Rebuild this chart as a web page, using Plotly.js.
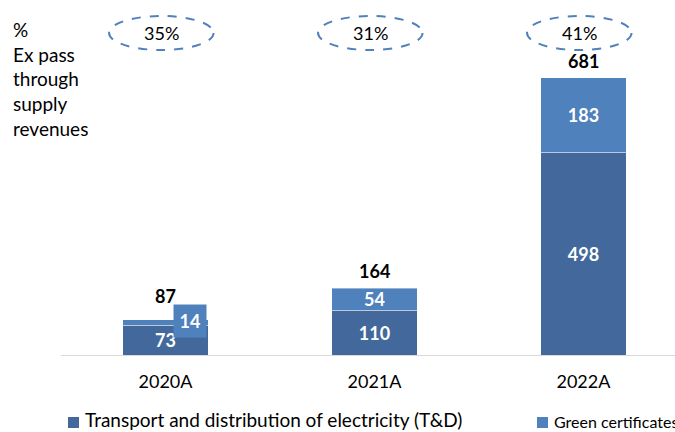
<!DOCTYPE html>
<html><head><meta charset="utf-8">
<script src="https://cdn.plot.ly/plotly-3.0.1.min.js"></script>
<style>html,body{margin:0;padding:0;background:#fff}</style>
</head><body><div id="chart" style="width:675px;height:432px"></div>
<script>
const categories = ["2020A", "2021A", "2022A"];
const tdValues = [73, 110, 498];
const greenValues = [14, 54, 183];
const totals = [87, 164, 681];
const shares = ["35%", "31%", "41%"];
const seriesNames = ["Transport and distribution of electricity (T&D)", "Green certificates"];
const sideNote = "%<br>Ex pass<br>through<br>supply<br>revenues";

const cDark = "#43699C", cLight = "#4F81BD";
const FONT = "Lato, 'Open Sans', sans-serif";
const L = 61, W = 614, H = 355;
const px = x => (x - L) / W;
const py = y => (H - y) / H;

const traces = [
  {type: "bar", x: [0,1,2], y: tdValues, name: seriesNames[0], marker: {color: cDark, line: {color: "#ffffff", width: 0.4}}, width: 0.41,
   text: tdValues.map(String), textposition: "inside", insidetextanchor: "middle", textangle: 0, constraintext: "none",
   textfont: {color: "#fff", size: 18, family: FONT, weight: "bold"}, hoverinfo: "skip"},
  {type: "bar", x: [0,1,2], y: greenValues, name: seriesNames[1], marker: {color: cLight, line: {color: "#ffffff", width: 0.4}}, width: 0.41,
   text: greenValues.map((v,i) => i === 0 ? "" : String(v)), textposition: "inside", insidetextanchor: "middle", textangle: 0, constraintext: "none",
   textfont: {color: "#fff", size: 18, family: FONT, weight: "bold"}, hoverinfo: "skip"}
];

const annotations = [];
const shapes = [];
categories.forEach((c, i) => {
  annotations.push({x: i, y: totals[i], xref: "x", yref: "y", text: "<b>" + totals[i] + "</b>", showarrow: false,
    yanchor: "bottom", yshift: i === 0 ? 11 : 4, font: {size: 18, color: "#000", family: FONT}});
  annotations.push({x: i - 0.02, y: py(33), xref: "x", yref: "paper", yanchor: "middle", text: shares[i], showarrow: false,
    font: {size: 18, color: "#000", family: FONT}});
  shapes.push({type: "circle", xref: "x", yref: "paper", x0: i - 0.27, x1: i + 0.23, y0: py(50), y1: py(16),
    line: {color: cLight, width: 2, dash: "dash"}, fillcolor: "rgba(0,0,0,0)"});
});
// offset label box for small green segment of first bar
annotations.push({x: 0, y: tdValues[0] + greenValues[0] / 2, xref: "x", yref: "y", text: "<b>" + greenValues[0] + "</b>",
  showarrow: false, xshift: 25, yshift: 1, bgcolor: cLight, width: 30, height: 30,
  font: {size: 18, color: "#fff", family: FONT}});
annotations.push({x: px(11), y: py(16), xref: "paper", yref: "paper", xanchor: "left", yanchor: "top", align: "left",
  text: sideNote, showarrow: false, font: {size: 19, color: "#000", family: FONT}});
// legend
const legX = [68, 537];
const legSize = [19, 16];
seriesNames.forEach((n, i) => {
  shapes.push({type: "rect", xref: "paper", yref: "paper", x0: px(legX[i]), x1: px(legX[i] + 11), y0: py(428), y1: py(417),
    fillcolor: i === 0 ? cDark : cLight, line: {width: 0}});
  annotations.push({x: px(legX[i] + 16), y: py(432), xref: "paper", yref: "paper", xanchor: "left", yanchor: "bottom",
    text: n, showarrow: false, borderpad: 0, font: {size: legSize[i], color: "#000", family: FONT}});
});

const layout = {
  width: 675, height: 432, margin: {l: L, r: 0, t: 0, b: 77},
  barmode: "stack", showlegend: false, paper_bgcolor: "#fff", plot_bgcolor: "#fff",
  xaxis: {range: [-0.5, 2.438], tickvals: [0,1,2], ticktext: categories, showgrid: false, zeroline: false,
    showline: true, linecolor: "#d9d9d9", linewidth: 1, ticks: "", ticklen: 0, ticklabelstandoff: 10,
    tickfont: {size: 18, color: "#000", family: FONT}},
  yaxis: {range: [0, H / 0.4068], visible: false, showgrid: false, zeroline: false},
  annotations, shapes
};
Plotly.newPlot("chart", traces, layout, {displayModeBar: false, staticPlot: true});
</script></body></html>
